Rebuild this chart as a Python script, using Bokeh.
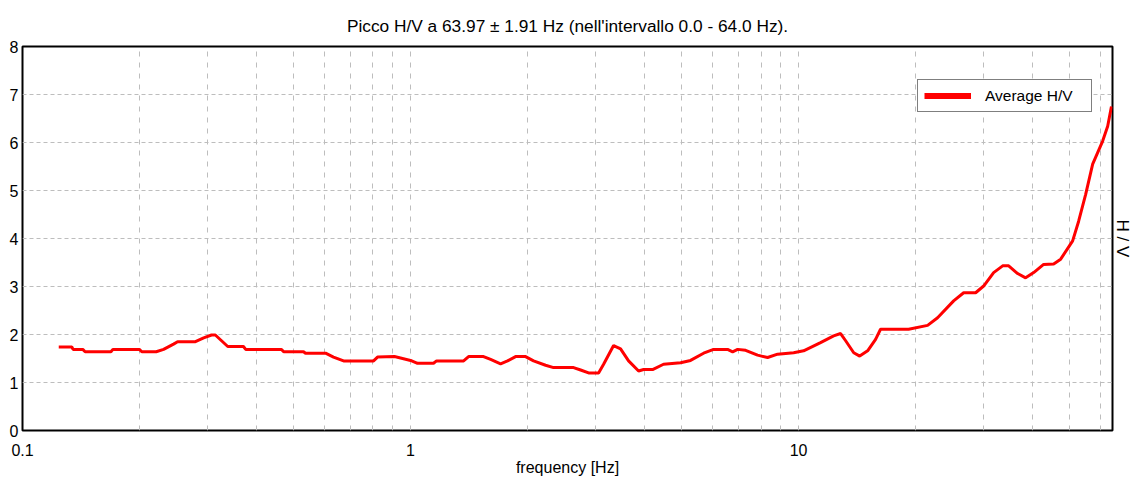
from bokeh.plotting import figure
from bokeh.models import (FixedTicker, SingleIntervalTicker, LinearAxis, Legend,
                          LegendItem, Range1d, CustomJSTickFormatter)
from bokeh.embed import file_html
from bokeh.resources import INLINE

# ---------------- data ----------------
freq = [0.124, 0.134, 0.135, 0.143, 0.145, 0.169, 0.171, 0.200, 0.203, 0.221,
        0.231, 0.245, 0.251, 0.279, 0.293, 0.307, 0.314, 0.338, 0.371, 0.376,
        0.465, 0.471, 0.530, 0.536, 0.604, 0.633, 0.672, 0.803, 0.822, 0.909,
        1.000, 1.042, 1.146, 1.167, 1.370, 1.411, 1.542, 1.608, 1.706, 1.778,
        1.865, 1.979, 2.075, 2.228, 2.336, 2.631, 2.743, 2.876, 3.052, 3.144,
        3.336, 3.477, 3.646, 3.869, 3.986, 4.204, 4.487, 4.964, 5.267, 5.690,
        6.038, 6.561, 6.760, 6.964, 7.302, 7.839, 8.320, 8.827, 9.708, 10.30,
        11.39, 12.31, 12.83, 13.22, 13.87, 14.37, 15.06, 15.79, 16.26, 19.21,
        21.50, 22.81, 25.09, 26.63, 28.59, 29.98, 31.81, 33.56, 34.78, 36.68,
        38.46, 40.34, 42.80, 45.42, 47.35, 50.84, 52.68, 54.92, 57.25, 58.97,
        60.75, 62.58, 64.0]
hv = [1.74, 1.74, 1.69, 1.69, 1.64, 1.64, 1.69, 1.69, 1.64, 1.64,
      1.69, 1.80, 1.85, 1.85, 1.93, 1.99, 1.99, 1.75, 1.75, 1.69,
      1.69, 1.64, 1.64, 1.61, 1.61, 1.53, 1.45, 1.45, 1.53, 1.54,
      1.46, 1.40, 1.40, 1.45, 1.45, 1.54, 1.54, 1.48, 1.39, 1.45,
      1.54, 1.54, 1.45, 1.36, 1.31, 1.31, 1.26, 1.20, 1.20, 1.38,
      1.77, 1.70, 1.45, 1.24, 1.27, 1.27, 1.38, 1.41, 1.46, 1.61,
      1.69, 1.69, 1.64, 1.69, 1.67, 1.57, 1.52, 1.59, 1.62, 1.66,
      1.83, 1.97, 2.02, 1.87, 1.62, 1.55, 1.66, 1.90, 2.11, 2.11,
      2.19, 2.35, 2.70, 2.87, 2.87, 3.01, 3.29, 3.43, 3.43, 3.27,
      3.18, 3.29, 3.46, 3.47, 3.57, 3.95, 4.36, 4.92, 5.55, 5.79,
      6.03, 6.34, 6.75]

x_major_ticks = [0.1, 1, 10]
x_minor_ticks = [m * 10.0 ** e for e in (-1, 0, 1) for m in range(2, 10)]
title_text = "Picco H/V a 63.97 \u00b1 1.91 Hz (nell'intervallo 0.0 - 64.0 Hz)."
x_label = "frequency [Hz]"
y_label = "H / V"
legend_label = "Average H/V"

FONT = "Liberation Sans"
FS = "16px"
GRID = "#bdbdbd"

p = figure(width=1135, height=486, x_axis_type="log",
           x_range=Range1d(0.1, 64.4), y_range=Range1d(0, 8),
           output_backend="svg", toolbar_location=None,
           min_border_left=22, min_border_right=23,
           min_border_top=46, min_border_bottom=56)
p.background_fill_color = "white"
p.border_fill_color = "white"
p.outline_line_color = "black"
p.outline_line_width = 2

# title
p.title.text = title_text
p.title.align = "center"
p.title.text_font = FONT
p.title.text_font_size = "17.3px"
p.title.text_font_style = "normal"
p.title.text_color = "black"
p.title.standoff = 22

# x axis
xa = p.xaxis[0]
xa.ticker = FixedTicker(ticks=x_major_ticks, minor_ticks=x_minor_ticks)
xa.formatter = CustomJSTickFormatter(code="return String(Number(tick.toPrecision(6)));")
xa.axis_line_color = None
xa.major_tick_line_color = None
xa.minor_tick_line_color = None
xa.major_tick_out = 0
xa.major_label_standoff = 9
xa.major_label_text_font = FONT
xa.major_label_text_font_size = FS
xa.major_label_text_color = "black"
xa.axis_label = x_label
xa.axis_label_text_font = FONT
xa.axis_label_text_font_size = FS
xa.axis_label_text_font_style = "normal"
xa.axis_label_text_color = "black"
xa.axis_label_standoff = 0

# y axis
ya = p.yaxis[0]
ya.ticker = SingleIntervalTicker(interval=1, num_minor_ticks=0)
ya.axis_line_color = None
ya.major_tick_line_color = None
ya.minor_tick_line_color = None
ya.major_tick_out = 0
ya.major_label_standoff = 4
ya.major_label_text_font = FONT
ya.major_label_text_font_size = FS
ya.major_label_text_color = "black"

# right axis label
ra = LinearAxis(axis_label=y_label, ticker=FixedTicker(ticks=[]),
                axis_line_color=None, major_tick_line_color=None,
                minor_tick_line_color=None, major_tick_out=0,
                major_label_text_font_size="0px", major_label_standoff=0,
                axis_label_text_font=FONT,
                axis_label_text_font_size="17px",
                axis_label_text_font_style="normal",
                axis_label_text_color="black", axis_label_standoff=0)
p.add_layout(ra, "right")

# grids
p.ygrid.grid_line_color = GRID
p.ygrid.grid_line_dash = "4 3"
p.ygrid.grid_line_width = 1
p.xgrid.grid_line_color = GRID
p.xgrid.grid_line_dash = "5 6"
p.xgrid.minor_grid_line_color = GRID
p.xgrid.minor_grid_line_dash = "5 6"

# curve
p.line(freq, hv, line_color="#ff0000", line_width=3)
dummy = p.line(x=[float("nan")], y=[float("nan")], line_color="#ff0000", line_width=6)

legend = Legend(items=[LegendItem(label=legend_label, renderers=[dummy])],
                location=(895, 318), orientation="vertical",
                border_line_color="black", border_line_width=1,
                background_fill_color="white", background_fill_alpha=1.0,
                padding=6, spacing=0, margin=0, glyph_width=47, glyph_height=19,
                label_standoff=14, label_height=19, label_width=100,
                label_text_font=FONT, label_text_font_size="15.5px",
                label_text_color="black")
p.add_layout(legend)

open("out.html", "w").write(file_html(p, INLINE))
